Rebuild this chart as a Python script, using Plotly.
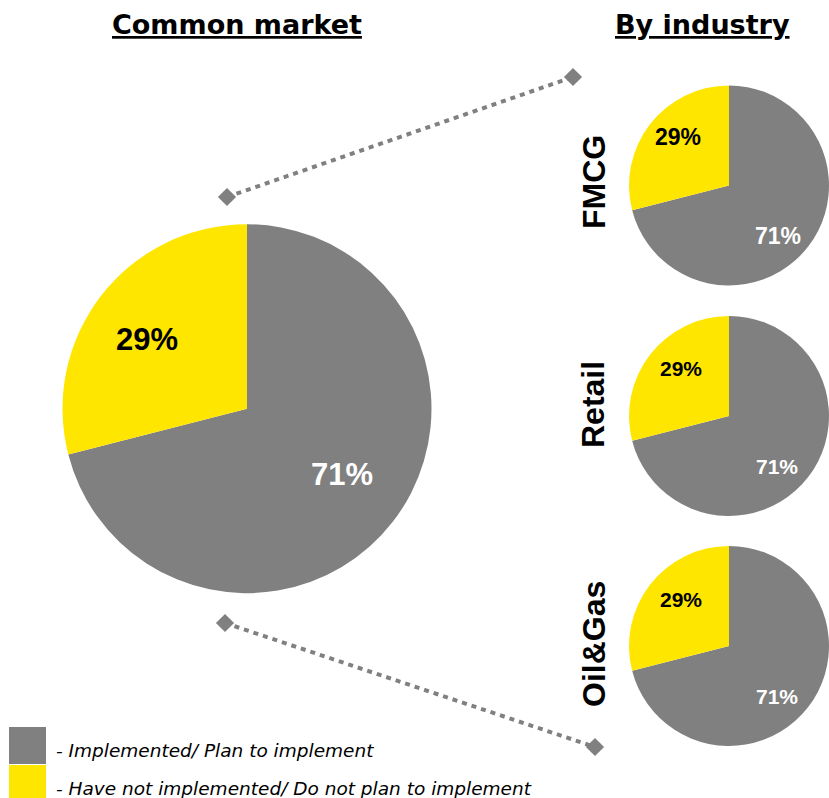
import plotly.graph_objects as go

# ---- data -------------------------------------------------------------
status_labels = ["Implemented/ Plan to implement",
                 "Have not implemented/ Do not plan to implement"]
common_market = [71, 29]
industries = ["FMCG", "Retail", "Oil&Gas"]
industry_values = [[71, 29], [71, 29], [71, 29]]

# ---- styling ----------------------------------------------------------
W, H = 829, 798
GRAY = "#808080"
YELLOW = "#FFE600"
COLORS = [GRAY, YELLOW]
LABEL_COLORS = ["white", "black"]
ARIAL = "Arial, 'Liberation Sans', sans-serif"
WIDE = "'DejaVu Sans', sans-serif"


def fx(x):
    return x / W


def fy(y):
    return 1 - y / H


# pie placement in pixels: (centre x, centre y, radius, label font size,
# label offsets from the centre for each slice)
big_pie = (247, 408.7, 184.5, 31, [(95, 66), (-100, -69)])
small_pies = [
    (729, 185.5, 100, 23, [(49, 50), (-51, -48)]),
    (729, 416, 100, 21, [(48, 50), (-48, -47)]),
    (729, 646, 100, 21, [(48, 50), (-48, -47)]),
]

fig = go.Figure()
annotations = []


def add_pie(values, cx, cy, r, fsize, offsets, name):
    fig.add_trace(go.Pie(
        values=values,
        labels=status_labels,
        name=name,
        sort=False,
        direction="clockwise",
        rotation=0,
        marker=dict(colors=COLORS, line=dict(width=0)),
        textinfo="none",
        hoverinfo="label+percent",
        showlegend=False,
        domain=dict(x=[fx(cx - r), fx(cx + r)], y=[fy(cy + r), fy(cy - r)]),
    ))
    total = sum(values)
    for v, col, (dx, dy) in zip(values, LABEL_COLORS, offsets):
        annotations.append(dict(
            x=fx(cx + dx), y=fy(cy + dy), xref="paper", yref="paper",
            text=f"<b>{round(v / total * 100)}%</b>", showarrow=False,
            xanchor="center", yanchor="middle",
            font=dict(family=ARIAL, size=fsize, color=col)))


add_pie(common_market, *big_pie, name="Common market")
for name, vals, geom in zip(industries, industry_values, small_pies):
    add_pie(vals, *geom, name=name)

# industry captions, rotated
caption_pos = [(594, 182), (593, 405), (594, 644)]
for name, (x, y) in zip(industries, caption_pos):
    annotations.append(dict(
        x=fx(x), y=fy(y), xref="paper", yref="paper", text=f"<b>{name}</b>",
        textangle=-90, showarrow=False, xanchor="center", yanchor="middle",
        font=dict(family=ARIAL, size=32, color="black")))

# section titles
for text, x in [("Common market", 237), ("By industry", 702)]:
    annotations.append(dict(
        x=fx(x), y=fy(24), xref="paper", yref="paper",
        text=f"<b><u>{text}</u></b>", showarrow=False,
        xanchor="center", yanchor="middle",
        font=dict(family=WIDE, size=27, color="black")))

# legend swatches and text
shapes = []
for (y0, y1), col, lab, ty in zip([(727, 764), (765, 800)], COLORS,
                                  status_labels, [750, 788]):
    shapes.append(dict(type="rect", xref="paper", yref="paper",
                       x0=fx(9), x1=fx(46), y0=fy(y1), y1=fy(y0),
                       fillcolor=col, line=dict(width=0)))
    annotations.append(dict(
        x=fx(54), y=fy(ty), xref="paper", yref="paper",
        text=f"<i>- {lab}</i>", showarrow=False,
        xanchor="left", yanchor="middle",
        font=dict(family=WIDE, size=18.5, color="black")))

# dotted connectors from the big pie to the industry column
connectors = [((227, 197), (573, 77)), ((225, 623), (595, 747))]
for (x0, y0), (x1, y1) in connectors:
    fig.add_trace(go.Scatter(
        x=[x0, x1], y=[y0, y1], mode="lines+markers",
        xaxis="x", yaxis="y", hoverinfo="skip", showlegend=False,
        line=dict(color=GRAY, width=4, dash="5px,5px"),
        marker=dict(symbol="diamond", size=14, color=GRAY)))

fig.update_layout(
    width=W, height=H,
    margin=dict(l=0, r=0, t=0, b=0),
    paper_bgcolor="white", plot_bgcolor="rgba(0,0,0,0)",
    xaxis=dict(range=[0, W], domain=[0, 1], visible=False, fixedrange=True),
    yaxis=dict(range=[H, 0], domain=[0, 1], visible=False, fixedrange=True),
    annotations=annotations,
    shapes=shapes,
)

fig.write_html("out.html")
